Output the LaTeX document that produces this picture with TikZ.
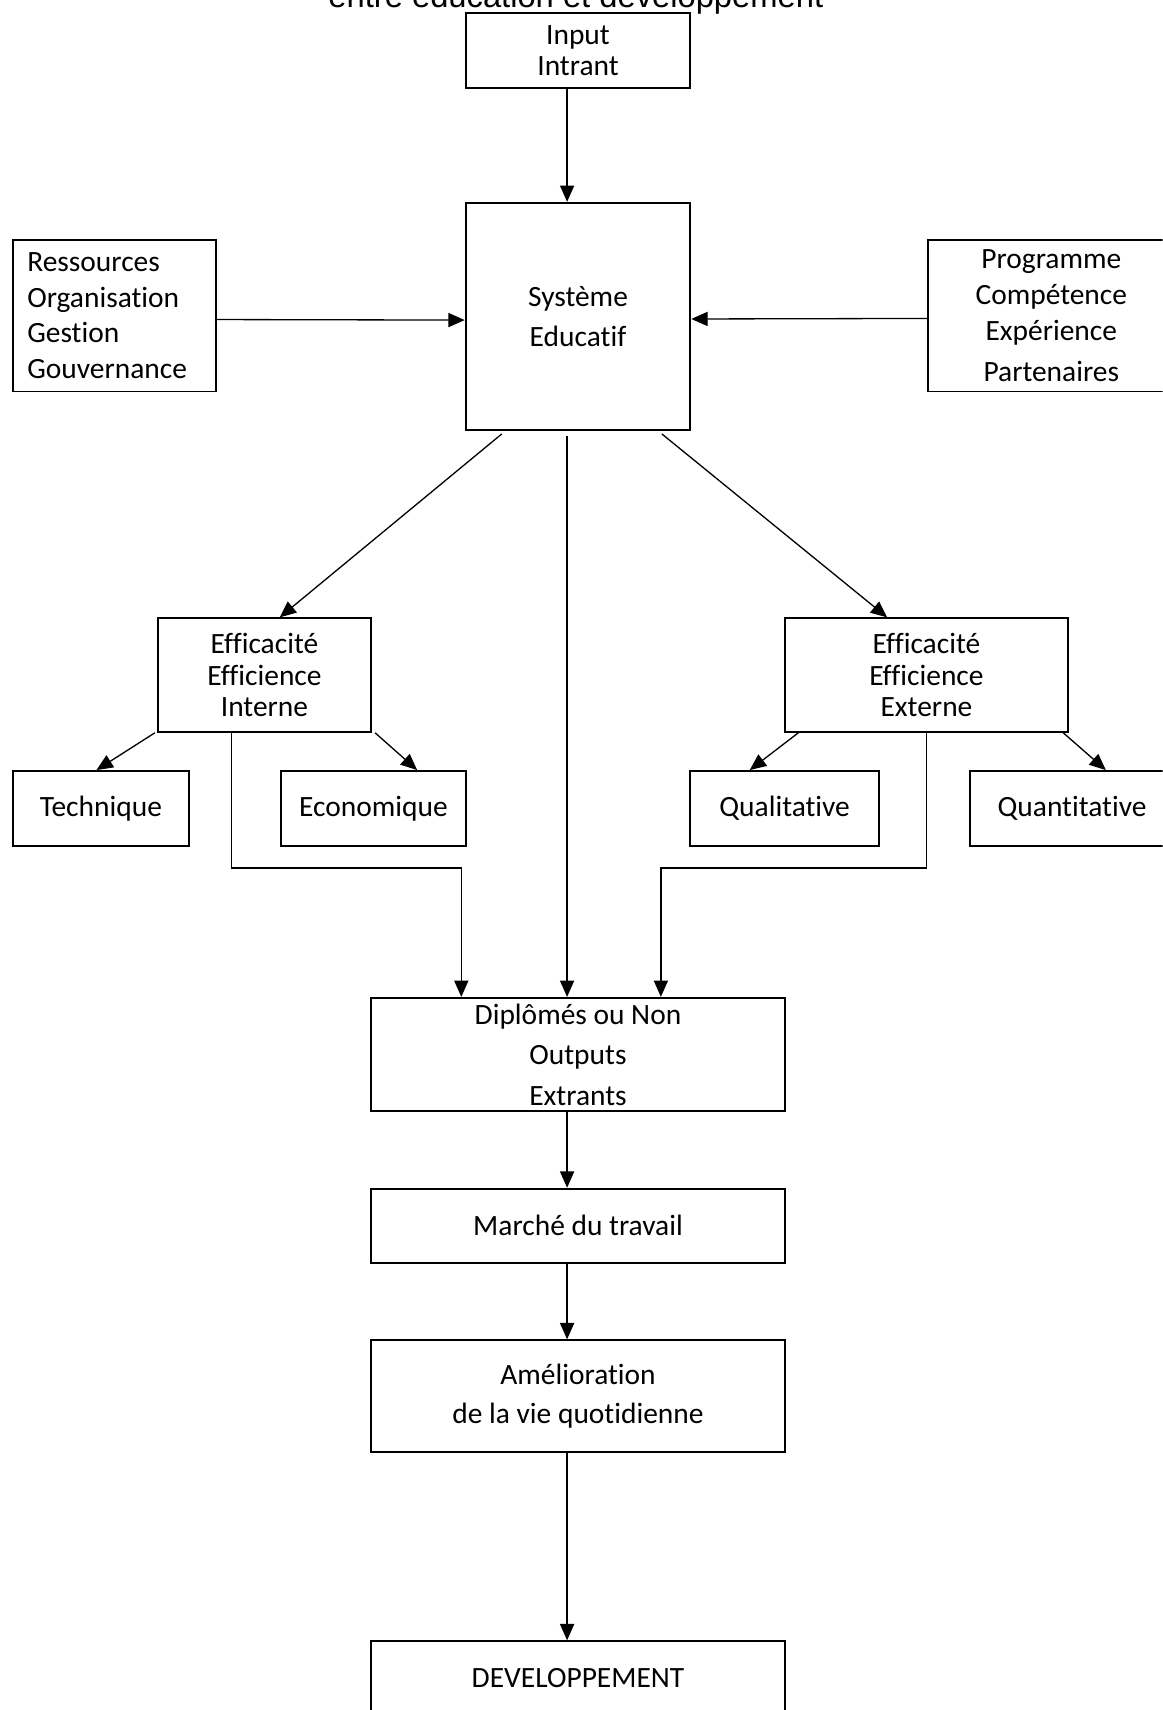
\documentclass[tikz,border=0pt]{standalone}
\usepackage{fontspec}
\setmainfont{Carlito}[Ligatures={NoCommon}]
\newfontfamily\titlefont{Liberation Sans}
\usetikzlibrary{arrows.meta}

\begin{document}
\begin{tikzpicture}[x=0.5pt,y=-0.5pt,
  box/.style={draw,line width=0.9pt,inner sep=0pt,align=center,font=\fontsize{13.5}{#1}\selectfont},
  box/.default=14.5,
  link/.style={line width=0.6pt,-{Triangle[length=7.5pt,width=6.5pt]}}]
\fill[white] (0,0) rectangle (1066,1568);
\useasboundingbox (0,0) rectangle (1066,1568);
\clip (0,0) rectangle (1066,1568);
\node[anchor=base,inner sep=0pt,font=\titlefont\fontsize{15}{17}\selectfont] (titre) at (528,7) {entre éducation et développement};
\node[box,minimum width=103pt,minimum height=34.5pt] (input) at (530,46.5) {Input\\Intrant};
\node[box=18.5,minimum width=103pt,minimum height=104pt] (sys) at (530,290) {Système\\Educatif};
\node[box=16.3,align=left,text width=80pt,minimum width=93pt,minimum height=69.5pt] (ress) at (105,289.5) {Ressources\\Organisation\\Gestion\\Gouvernance};
\node[box=16.5,minimum width=113pt,minimum height=69.5pt] (prog) at (964,289.5) {Programme\\Compétence\\Expérience\\[2pt]Partenaires};
\node[box,minimum width=97.5pt,minimum height=52pt] (interne) at (242.5,619) {Efficacité\\Efficience\\Interne};
\node[box,minimum width=129.5pt,minimum height=52pt] (externe) at (849.5,619) {Efficacité\\Efficience\\Externe};
\node[box,minimum width=80.5pt,minimum height=34.5pt] (tech) at (92.5,741.5) {Technique};
\node[box,minimum width=84.5pt,minimum height=34.5pt] (eco) at (342.5,741.5) {Economique};
\node[box,minimum width=86.5pt,minimum height=34.5pt] (quali) at (719.5,741.5) {Qualitative};
\node[box,minimum width=94pt,minimum height=34.5pt] (quanti) at (983,741.5) {Quantitative};
\node[box=18.5,minimum width=190pt,minimum height=52pt] (diplo) at (530,967) {Diplômés ou Non\\Outputs\\Extrants};
\node[box,minimum width=190pt,minimum height=34pt] (marche) at (530,1124) {Marché du travail};
\node[box=18,minimum width=190pt,minimum height=51pt] (amelio) at (530,1280) {Amélioration\\de la vie quotidienne};
\node[box,minimum width=190pt,minimum height=34pt] (dev) at (530,1539) {DEVELOPPEMENT};
\coordinate (stem) at (520,0);
\coordinate (elbL) at (423,796);
\coordinate (elbR) at (606,796);
\draw[link] (input.south -| stem) -- (sys.north -| stem);
\draw[link] ([yshift=-1.75pt]ress.east) -- ([yshift=-1.75pt]sys.west);
\draw[link] ([yshift=-1.25pt]prog.west) -- ([yshift=-1.25pt]sys.east);
\draw[link] ([xshift=17pt,yshift=-1.5pt]sys.south west) -- ([xshift=7pt]interne.north);
\draw[link] ([xshift=-13.5pt,yshift=-1.5pt]sys.south east) -- ([xshift=-18pt]externe.north);
\draw[link,shorten <=2.5pt] (sys.south -| stem) -- (diplo.north -| stem);
\draw[link] ([xshift=-1pt]interne.south west) -- ([xshift=-2pt]tech.north);
\draw[link] ([xshift=1.5pt]interne.south east) -- ([xshift=20pt]eco.north);
\draw[link] ([xshift=6.5pt]externe.south west) -- ([xshift=-16pt]quali.north);
\draw[link] ([xshift=-2.5pt]externe.south east) -- ([xshift=15.5pt]quanti.north);
\draw[link] ([xshift=-15pt]interne.south) |- (elbL) -- (elbL |- diplo.north);
\draw[link] (externe.south) |- (elbR) -- (elbR |- diplo.north);
\draw[link] (diplo.south -| stem) -- (marche.north -| stem);
\draw[link] (marche.south -| stem) -- (amelio.north -| stem);
\draw[link] (amelio.south -| stem) -- (dev.north -| stem);
\end{tikzpicture}
\end{document}
